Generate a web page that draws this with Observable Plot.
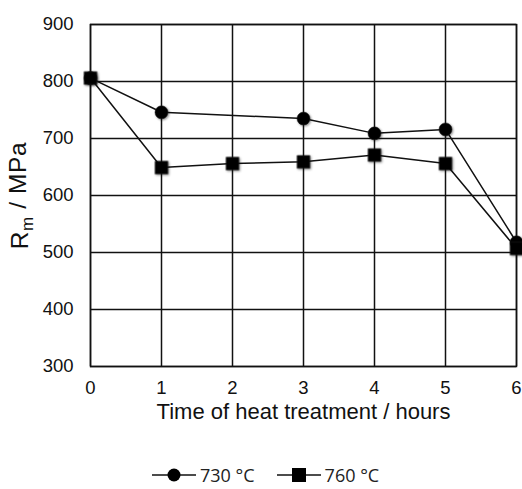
<!DOCTYPE html>
<html>
<head>
<meta charset="utf-8">
<script src="https://cdn.jsdelivr.net/npm/d3@7"></script>
<script src="https://cdn.jsdelivr.net/npm/@observablehq/plot@0.6"></script>
<style>
  html, body { margin: 0; padding: 0; background: #fff; }
  #chart { width: 522px; }
  .legend { display: flex; gap: 22px; margin-left: 152px; margin-top: 23px; font-family: "Open Sans", sans-serif; font-size: 18px; color: #222; align-items: center; }
  .legend .item { display: flex; align-items: center; gap: 4px; }
</style>
</head>
<body>
<div id="chart"></div>
<script>
const seriesNames = ["730 °C", "760 °C"];
const times730 = [0, 1, 3, 4, 5, 6];
const values730 = [806, 746, 735, 709, 716, 518];
const times760 = [0, 1, 2, 3, 4, 5, 6];
const values760 = [806, 649, 656, 659, 671, 656, 507];
const xTicks = [0, 1, 2, 3, 4, 5, 6];
const yTicks = [300, 400, 500, 600, 700, 800, 900];

const d730 = times730.map((t, i) => ({t, v: values730[i], s: seriesNames[0]}));
const d760 = times760.map((t, i) => ({t, v: values760[i], s: seriesNames[1]}));

const plot = Plot.plot({
  width: 522,
  height: 440,
  marginTop: 24,
  marginBottom: 74,
  marginLeft: 90,
  marginRight: 6,
  style: {fontFamily: "'Liberation Sans', Arial, sans-serif", fontSize: "18.5px", color: "#111", background: "#fff"},
  x: {domain: [0, 6], ticks: xTicks, tickSize: 0, tickPadding: 14, label: "Time of heat treatment / hours", labelAnchor: "center", labelOffset: 52, tickFormat: d3.format("d")},
  y: {domain: [300, 900], ticks: yTicks, tickSize: 0, tickPadding: 17, label: "Rm / MPa", labelAnchor: "center", labelOffset: 80},
  marks: [
    Plot.gridX(xTicks, {stroke: "#111", strokeOpacity: 1, strokeWidth: 1.5}),
    Plot.gridY(yTicks, {stroke: "#111", strokeOpacity: 1, strokeWidth: 1.5}),
    Plot.frame({stroke: "#111", strokeWidth: 1.5}),
    Plot.line(d730, {x: "t", y: "v", stroke: "#111", strokeWidth: 1.5}),
    Plot.line(d760, {x: "t", y: "v", stroke: "#111", strokeWidth: 1.5}),
    Plot.dot(d730, {x: "t", y: "v", symbol: "circle", r: 6.5, fill: "#000", stroke: "#222", strokeWidth: 0.5}),
    Plot.dot(d760, {x: "t", y: "v", symbol: "square", r: 7.2, fill: "#000", stroke: "#222", strokeWidth: 0.5})
  ]
});

const svg = d3.select(plot);
svg.selectAll('g[aria-label="x-axis tick label"] text').style("font-size", "18.5px");
svg.selectAll('g[aria-label="y-axis tick label"] text').style("font-size", "18.5px");
svg.selectAll('g[aria-label="dot"]').style("filter", "drop-shadow(1px 1px 1px rgba(0,0,0,0.45))");
svg.selectAll('g[aria-label="x-axis label"] text')
  .style("font-size", "22px")
  .text("Time of heat treatment / hours");
svg.selectAll('g[aria-label="y-axis label"] text')
  .style("font-size", "24.5px")
  .style("letter-spacing", "0.6px")
  .each(function() {
    const t = d3.select(this);
    t.text(null);
    t.append("tspan").text("R");
    t.append("tspan").attr("font-size", "17px").attr("dy", "0.3em").text("m");
    t.append("tspan").attr("dy", "-0.3em").text(" / MPa");
  });

document.getElementById("chart").appendChild(plot);

const legend = d3.select("#chart").append("div").attr("class", "legend");
seriesNames.forEach((name, i) => {
  const item = legend.append("div").attr("class", "item");
  const s = item.append("svg").attr("width", 44).attr("height", 18);
  s.append("line").attr("x1", 0).attr("x2", 44).attr("y1", 9).attr("y2", 9).attr("stroke", "#111").attr("stroke-width", 1.5);
  if (i === 0) s.append("circle").attr("cx", 22).attr("cy", 9).attr("r", 6.5).attr("fill", "#000");
  else s.append("rect").attr("x", 15).attr("y", 2).attr("width", 14).attr("height", 14).attr("fill", "#000");
  item.append("span").text(name);
});
</script>
</body>
</html>
